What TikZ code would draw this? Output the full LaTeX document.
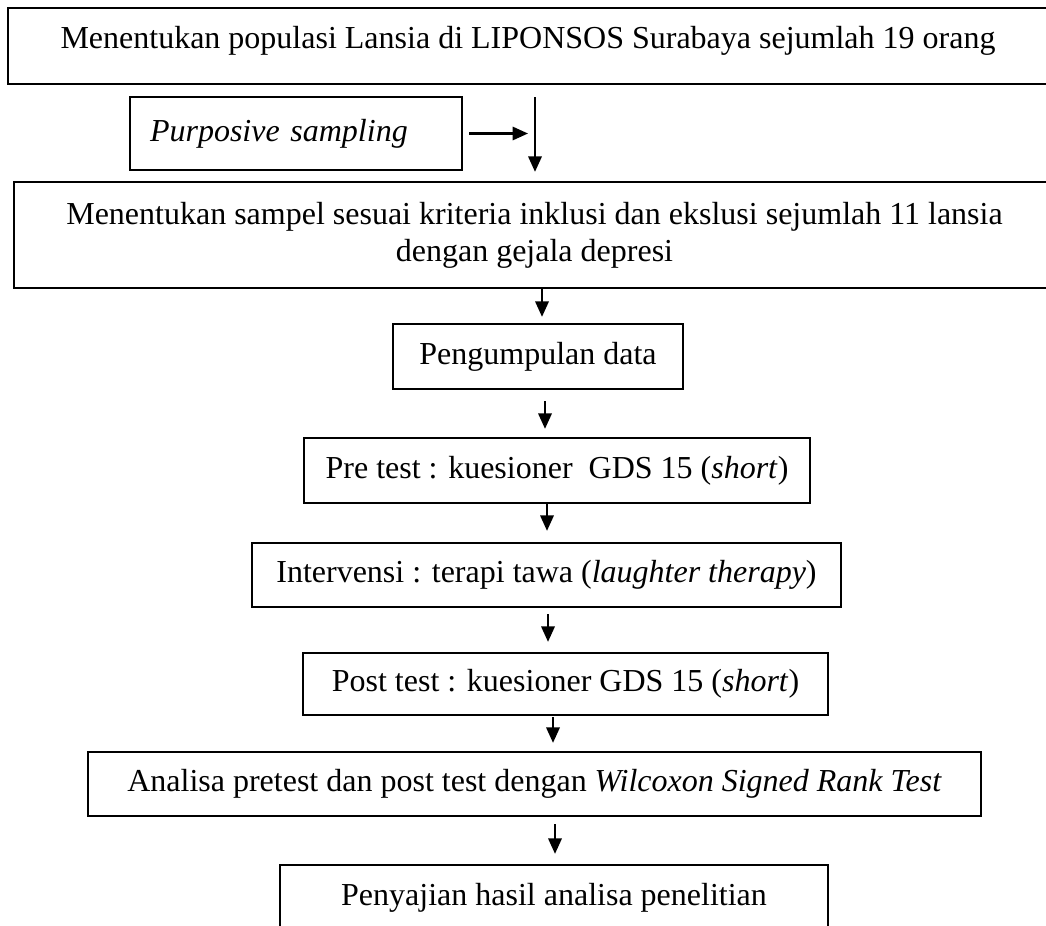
\documentclass[tikz,border=0pt]{standalone}
\usepackage{fontspec}
\setmainfont{Liberation Serif}
\usepackage{tikz}
\usetikzlibrary{arrows.meta, positioning}
\newdimen\px
\px=0.375pt

\begin{document}
\begin{tikzpicture}[x=0.375pt, y=-0.375pt,
      stepbox/.style={rectangle, draw=black, line width=0.85pt, font=\fontsize{12}{13.8}\selectfont,
                      align=center, inner sep=0pt},
      flow/.style={-{Triangle[length=5.8pt, width=5pt]}, line width=0.85pt}
    ]
    \clip (0,0) rectangle (1046,925);
    \fill[white] (0,0) rectangle (1046,925);

    % Populasi
    \node[stepbox, minimum width=1040\px, minimum height=76\px, text depth=6.7pt]
          (pop) at (528,46) {Menentukan populasi Lansia di LIPONSOS Surabaya sejumlah 19 orang};

    % Sampling
    \node[stepbox, align=left, text width=292\px, inner xsep=20\px, minimum height=73\px]
          (samp) at (296,133.5) {\textit{Purposive sampling}};
    \coordinate (split) at (535,97);

    % Sampel
    \node[stepbox, minimum width=1041\px, minimum height=106\px]
          (sampel) at (534.5,235) {Menentukan sampel sesuai kriteria inklusi dan ekslusi sejumlah 11 lansia\\
                                   dengan gejala depresi};

    % Pengumpulan data
    \node[stepbox, minimum width=290\px, minimum height=65\px]
          (data) at (538,356.5) {Pengumpulan data};

    % Pre test
    \node[stepbox, minimum width=506\px, minimum height=65\px]
          (pre) at (557,470.5) {Pre test : kuesioner\ \ GDS 15 (\textit{short})};

    % Intervensi
    \node[stepbox, minimum width=589\px, minimum height=64\px]
          (inter) at (546.5,575) {Intervensi : terapi tawa (\textit{laughter therapy})};

    % Post test
    \node[stepbox, minimum width=525\px, minimum height=62\px]
          (post) at (565.5,684) {Post test : kuesioner GDS 15 (\textit{short})};

    % Analisa
    \node[stepbox, minimum width=893\px, minimum height=64\px]
          (anal) at (534.5,784) {Analisa pretest dan post test dengan \textit{Wilcoxon Signed Rank Test}};

    % Penyajian
    \node[stepbox, minimum width=548\px, minimum height=80\px, text depth=8.2pt]
          (hasil) at (554,905) {Penyajian hasil analisa penelitian};

    % Connectors
    \draw[flow, shorten >=9\px] (split) -- (split |- sampel.north);
    \draw[flow, shorten <=6\px, shorten >=7\px] (samp.east) -- (samp.east -| split);
    \draw[flow, shorten >=6\px] (sampel.south -| 542,0) -- (data.north -| 542,0);
    \draw[flow, shorten <=11\px, shorten >=8\px] (data.south -| 545,0) -- (pre.north -| 545,0);
    \draw[flow, shorten >=11\px] (pre.south -| 547,0) -- (inter.north -| 547,0);
    \draw[flow, shorten <=6\px, shorten >=10\px] (inter.south -| 548,0) -- (post.north -| 548,0);
    \draw[flow, shorten <=1\px, shorten >=8\px] (post.south -| 553,0) -- (anal.north -| 553,0);
    \draw[flow, shorten <=7\px, shorten >=10\px] (anal.south -| 555,0) -- (hasil.north -| 555,0);
  \end{tikzpicture}
\end{document}
